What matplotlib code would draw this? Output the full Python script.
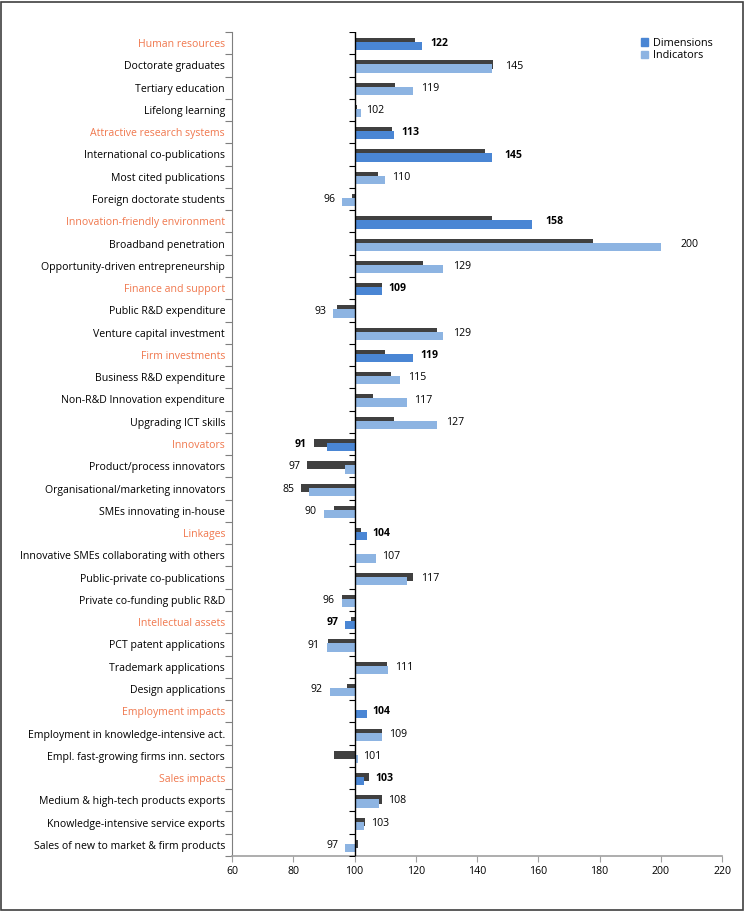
import numpy as np
import matplotlib
matplotlib.use("Agg")
import matplotlib.pyplot as plt
from matplotlib.patches import Patch, Rectangle

plt.rcParams['font.family'] = ['Open Sans', 'DejaVu Sans']
plt.rcParams['font.size'] = 7.6

labels = [
    "Human resources", "Doctorate graduates", "Tertiary education", "Lifelong learning",
    "Attractive research systems", "International co-publications", "Most cited publications",
    "Foreign doctorate students", "Innovation-friendly environment", "Broadband penetration",
    "Opportunity-driven entrepreneurship", "Finance and support", "Public R&D expenditure",
    "Venture capital investment", "Firm investments", "Business R&D expenditure",
    "Non-R&D Innovation expenditure", "Upgrading ICT skills", "Innovators",
    "Product/process innovators", "Organisational/marketing innovators", "SMEs innovating in-house",
    "Linkages", "Innovative SMEs collaborating with others", "Public-private co-publications",
    "Private co-funding public R&D", "Intellectual assets", "PCT patent applications",
    "Trademark applications", "Design applications", "Employment impacts",
    "Employment in knowledge-intensive act.", "Empl. fast-growing firms inn. sectors",
    "Sales impacts", "Medium & high-tech products exports", "Knowledge-intensive service exports",
    "Sales of new to market & firm products",
]
current = [122, 145, 119, 102, 113, 145, 110, 96, 158, 200, 129, 109, 93, 129, 119, 115, 117, 127,
           91, 97, 85, 90, 104, 107, 117, 96, 97, 91, 111, 92, 104, 109, 101, 103, 108, 103, 97]
previous = [119.7, 145.2, 113.3, 100.8, 112.4, 142.6, 107.7, 99.1, 145.0, 177.8, 122.5, 109.0,
            94.2, 126.9, 110.0, 112.0, 106.0, 112.9, 86.8, 84.6, 82.6, 93.3, 102.2, 100.3, 119.2,
            95.9, 99.0, 91.4, 110.5, 97.6, 100.0, 108.9, 93.3, 104.7, 108.9, 103.5, 101.0]
dimensions = ["Human resources", "Attractive research systems", "Innovation-friendly environment",
              "Finance and support", "Firm investments", "Innovators", "Linkages",
              "Intellectual assets", "Employment impacts", "Sales impacts"]
# bars drawn in the dimension colour (one indicator is shown that way in the original)
dim_bars = dimensions + ["International co-publications"]

c_dim = "#4a86d4"
c_ind = "#8db4e2"
c_prev = "#404040"
c_orange = "#f0784e"

fig = plt.figure(figsize=(7.44, 9.11), dpi=100)
ax = fig.add_axes([232 / 744, 1 - 856 / 911, 490 / 744, 824 / 911])

y = np.arange(len(labels))
h = 0.37
cols = [c_dim if l in dim_bars else c_ind for l in labels]
ax.barh(y - 0.04, np.array(previous) - 100, left=100, height=h, color=c_prev, zorder=2)
ax.barh(y + 0.14, np.array(current) - 100, left=100, height=h, color=cols, zorder=3)

for i, (lab, v, p) in enumerate(zip(labels, current, previous)):
    bold = lab in dim_bars
    if v >= 100:
        x = max(v, p) + 1.8 + 0.045 * (max(v, p) - 100)
        ha = 'left'
    else:
        x = min(v, p) - 2.3
        ha = 'right'
    ax.text(x, i + 0.03, str(v), ha=ha, va='center', fontweight='bold' if bold else 'normal',
            color='black', zorder=4)

ax.axvline(100, color='black', lw=1, zorder=5)
bounds = np.arange(-0.5, len(labels), 1.0)
ax.plot([100] * len(bounds), bounds, linestyle='none', marker=0, markersize=4,
        color='black', markeredgewidth=0.8, zorder=5)

ax.set_xlim(60, 220)
ax.set_ylim(len(labels) - 0.5, -0.5)
ax.set_xticks(np.arange(60, 221, 20))
ax.set_yticks(y)
ax.set_yticklabels(labels)
ax.set_yticks(bounds, minor=True)
ax.tick_params(axis='y', which='major', length=0, pad=5)
ax.tick_params(axis='y', which='minor', length=5, color='#7f7f7f', width=0.8)
ax.tick_params(axis='x', length=4, color='#a0a0a0', width=0.8, pad=3)
for t in ax.get_yticklabels():
    if t.get_text() in dimensions:
        t.set_color(c_orange)

for s in ['top', 'right']:
    ax.spines[s].set_visible(False)
ax.spines['left'].set_color('#7f7f7f')
ax.spines['left'].set_linewidth(0.8)
ax.spines['bottom'].set_color('#a0a0a0')
ax.spines['bottom'].set_linewidth(1.2)

handles = [Patch(color=c_dim, label='Dimensions'), Patch(color=c_ind, label='Indicators')]
ax.legend(handles=handles, loc='upper right', bbox_to_anchor=(1.0, 1.005), frameon=False,
          handlelength=0.7, handleheight=0.7, handletextpad=0.4, labelspacing=0.15, fontsize=7.8)

fig.add_artist(Rectangle((0.001, 0.001), 0.997, 0.997, transform=fig.transFigure,
                         fill=False, edgecolor='#404040', lw=1.2))

fig.savefig("out.png", dpi=100)
